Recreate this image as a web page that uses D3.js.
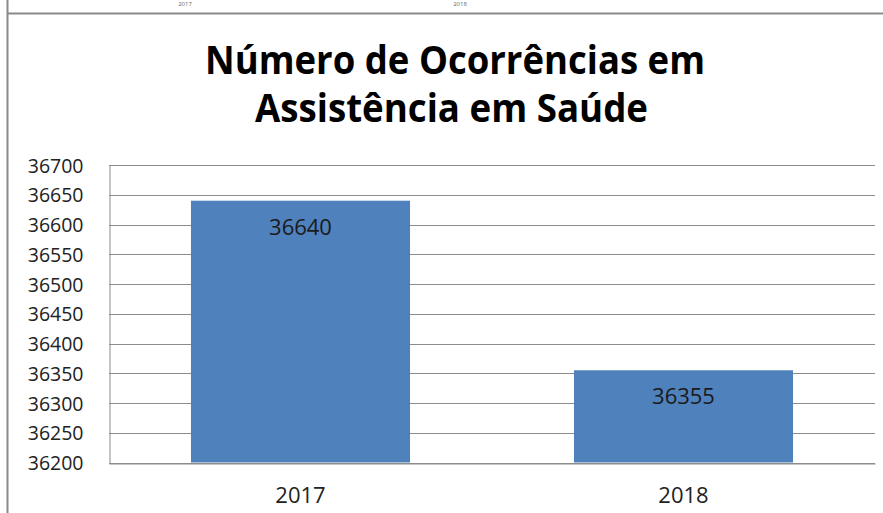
<!DOCTYPE html>
<html>
<head>
<meta charset="utf-8">
<script src="https://cdn.jsdelivr.net/npm/d3@7"></script>
<style>
  html, body { margin: 0; padding: 0; background: #fff; }
  svg { display: block; }
  text { font-family: "Open Sans", "DejaVu Sans", sans-serif; }
</style>
</head>
<body>
<svg id="chart" width="883" height="513"></svg>
<script>
// ---- Data ----
const categories = ["2017", "2018"];
const values = [36640, 36355];
const yTicks = [36200, 36250, 36300, 36350, 36400, 36450, 36500, 36550, 36600, 36650, 36700];
const titleLines = ["Número de Ocorrências em", "Assistência em Saúde"];
const previousChartLabels = ["2017", "2018"];

// ---- Layout ----
const W = 883, H = 513;
const plot = { left: 109, right: 875, top: 165, bottom: 462.5 };
const svg = d3.select("#chart");

svg.append("rect").attr("width", W).attr("height", H).attr("fill", "#fff");

// small labels of the chart above (top strip)
const stripX = d3.scalePoint().domain(previousChartLabels).range([185, 460]);
svg.selectAll("text.prev").data(previousChartLabels).enter().append("text")
  .attr("class", "prev")
  .attr("x", d => stripX(d)).attr("y", 6)
  .attr("text-anchor", "middle")
  .attr("font-size", 6).attr("fill", "#666")
  .text(d => d);

// frame of the chart
svg.append("line").attr("x1", 7).attr("x2", W).attr("y1", 13.5).attr("y2", 13.5)
  .attr("stroke", "#8a8a8a").attr("stroke-width", 2);
svg.append("line").attr("x1", 7.5).attr("x2", 7.5).attr("y1", 0).attr("y2", H)
  .attr("stroke", "#8a8a8a").attr("stroke-width", 2);

// title
const titleLayout = [
  { cx: 455, y: 73.5, len: 500 },
  { cx: 451.5, y: 121.5, len: 393 }
];
svg.selectAll("text.title").data(titleLines).enter().append("text")
  .attr("class", "title")
  .attr("x", (d, i) => titleLayout[i].cx)
  .attr("y", (d, i) => titleLayout[i].y)
  .attr("text-anchor", "middle")
  .attr("font-size", 39)
  .attr("font-weight", "bold")
  .attr("fill", "#000")
  .attr("textLength", (d, i) => titleLayout[i].len)
  .attr("lengthAdjust", "spacingAndGlyphs")
  .text(d => d);

// scales
const y = d3.scaleLinear().domain([36200, 36700]).range([plot.bottom, plot.top]);
const x = d3.scaleBand().domain(categories).range([plot.left, plot.right])
  .paddingInner(0.428).paddingOuter(0.214);

// gridlines
svg.append("g").selectAll("line").data(yTicks).enter().append("line")
  .attr("x1", plot.left).attr("x2", plot.right)
  .attr("y1", d => Math.round(y(d)) + 0.5).attr("y2", d => Math.round(y(d)) + 0.5)
  .attr("stroke", "#8c8c8c").attr("stroke-width", 1);

// y axis
const yAxis = d3.axisLeft(y).tickValues(yTicks).tickSize(0).tickPadding(0).tickFormat(d3.format("d"));
const gy = svg.append("g").attr("transform", `translate(${plot.left + 0.5},0)`).call(yAxis);
gy.select(".domain").attr("stroke", "#8c8c8c");
gy.selectAll("text")
  .attr("x", -26)
  .attr("dy", "0.36em")
  .attr("font-size", 19.5)
  .attr("font-family", "'Open Sans', sans-serif")
  .attr("fill", "#222");

// bars
svg.append("g").selectAll("rect").data(values).enter().append("rect")
  .attr("x", (d, i) => x(categories[i]))
  .attr("width", x.bandwidth())
  .attr("y", d => y(d))
  .attr("height", d => plot.bottom - y(d))
  .attr("fill", "#4f81bd");

// x axis
const xAxis = d3.axisBottom(x).tickSize(0).tickPadding(0);
const gx = svg.append("g").attr("transform", `translate(0,${Math.round(plot.bottom) + 0.5})`).call(xAxis);
gx.select(".domain").attr("stroke", "#8c8c8c");
gx.selectAll("text")
  .attr("y", 39)
  .attr("dy", 0)
  .attr("font-size", 22)
  .attr("font-family", "'Open Sans', sans-serif")
  .attr("fill", "#222");

// data labels
svg.append("g").selectAll("text").data(values).enter().append("text")
  .attr("x", (d, i) => x(categories[i]) + x.bandwidth() / 2)
  .attr("y", d => y(d) + 34)
  .attr("text-anchor", "middle")
  .attr("font-size", 22)
  .attr("fill", "#1a1a1a")
  .text(d => d);
</script>
</body>
</html>
